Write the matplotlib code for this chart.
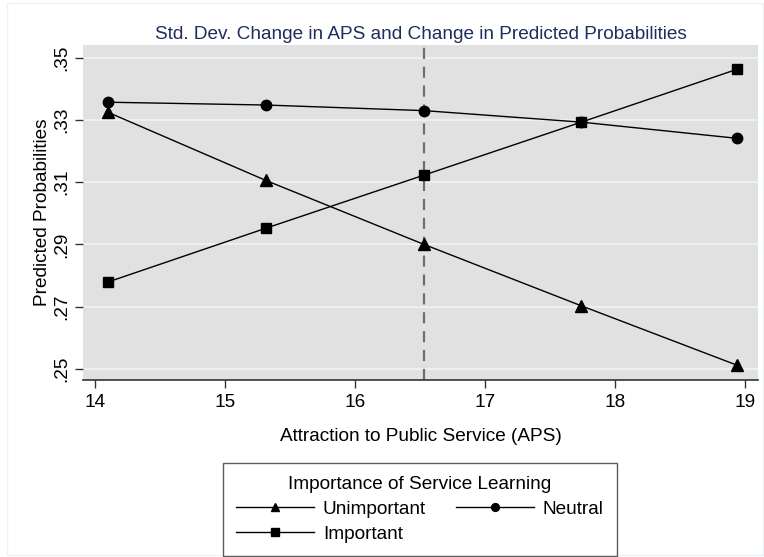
import matplotlib
matplotlib.use('Agg')
import matplotlib.pyplot as plt
from matplotlib.patches import Rectangle

plt.rcParams['font.family'] = ['Liberation Sans', 'DejaVu Sans']

# values
aps = [14.10, 15.31, 16.53, 17.74, 18.94]
unimportant = [0.3324, 0.3106, 0.2900, 0.2703, 0.2512]
neutral = [0.3357, 0.3348, 0.3330, 0.3293, 0.3241]
important = [0.2780, 0.2952, 0.3123, 0.3293, 0.3463]
aps_mean = 16.53
yticks = [0.25, 0.27, 0.29, 0.31, 0.33, 0.35]
ylabels = ['.25', '.27', '.29', '.31', '.33', '.35']
xticks = [14, 15, 16, 17, 18, 19]

fs = 13.7

fig = plt.figure(figsize=(7.64, 5.57), dpi=100)
ax = fig.add_axes([83/764, 1 - 380/557, 675/764, 335/557])
ax.set_facecolor('#e1e1e1')

# faint frame round the graph region, like Stata
fig.patches.append(Rectangle((7/764, 0.004), 1 - 8/764, 0.99, transform=fig.transFigure,
                             fill=False, edgecolor='#eef3f5', linewidth=1))

for y in yticks:
    ax.axhline(y, color='#eef4f4', linewidth=1.2, zorder=1)

ax.axvline(aps_mean, color='#6e6e6e', linewidth=1.6, linestyle=(0, (5, 3.5)), zorder=2)

l1, = ax.plot(aps, unimportant, color='black', linewidth=1, marker='^', markersize=8, label='Unimportant', zorder=3)
l2, = ax.plot(aps, neutral, color='black', linewidth=1, marker='o', markersize=7.5, label='Neutral', zorder=3)
l3, = ax.plot(aps, important, color='black', linewidth=1, marker='s', markersize=7, label='Important', zorder=3)

ax.set_xlim(13.904, 19.10)
ax.set_ylim(0.24647, 0.35408)
ax.set_xticks(xticks)
ax.set_yticks(yticks)
ax.set_yticklabels(ylabels, rotation=90, va='center')
ax.tick_params(axis='both', labelsize=fs, length=6, width=1, color='#333333', direction='out')
ax.tick_params(axis='x', pad=4)
ax.tick_params(axis='y', pad=3)

for s in ['top', 'right', 'left']:
    ax.spines[s].set_visible(False)
ax.spines['bottom'].set_color('#333333')
ax.spines['bottom'].set_linewidth(1.2)

ax.set_title('Std. Dev. Change in APS and Change in Predicted Probabilities',
             color='#1f2d5c', fontsize=fs, pad=4)
ax.set_xlabel('Attraction to Public Service (APS)', fontsize=fs, labelpad=12)
ax.set_ylabel('Predicted Probabilities', fontsize=fs, labelpad=2)

# column-major fill: Unimportant / Important in col 1, Neutral in col 2
leg = fig.legend([l1, l3, l2], ['Unimportant', 'Important', 'Neutral'],
                 loc='center', bbox_to_anchor=(420/764, 1 - 509.5/557), ncol=2,
                 title='Importance of Service Learning', fontsize=fs, title_fontsize=fs,
                 frameon=True, fancybox=False, edgecolor='#333333', handlelength=4.1,
                 handletextpad=0.45, columnspacing=1.6, borderpad=0.7, labelspacing=0.4,
                 markerscale=0.75)
leg.get_frame().set_linewidth(1)
leg._legend_box.sep = 5

fig.savefig('out.png', dpi=100)
